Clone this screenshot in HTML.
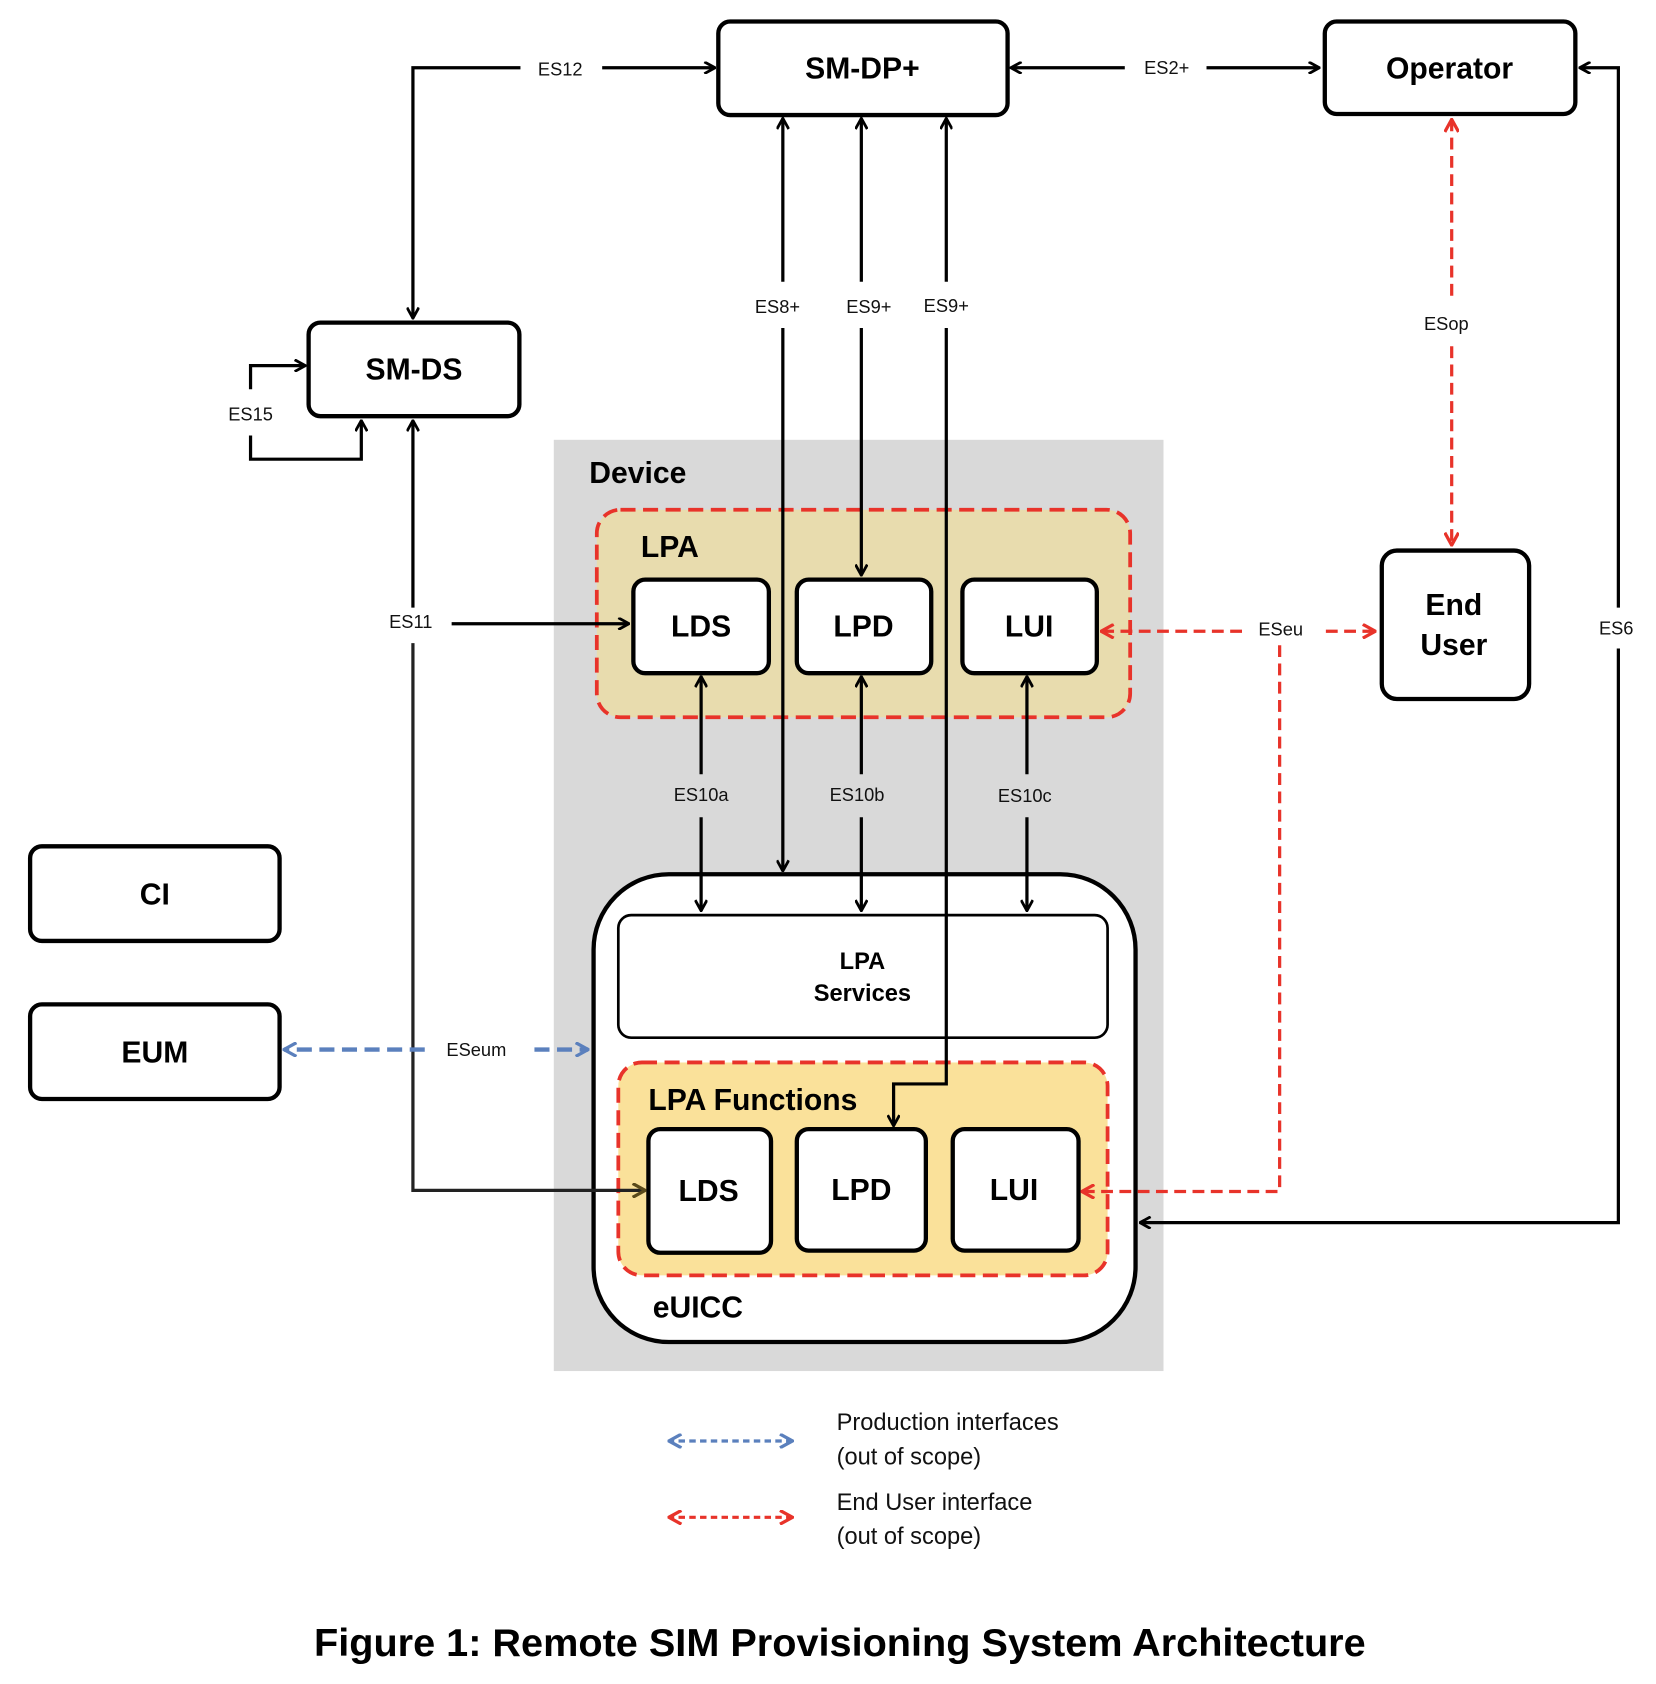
<!DOCTYPE html>
<html><head><meta charset="utf-8"><style>
html,body{margin:0;padding:0;background:#fff}
svg{display:block}
text{font-family:"Liberation Sans",sans-serif}
.b{font-weight:bold;fill:#000}
.l{font-size:17px;fill:#111}
</style></head><body>
<svg width="1656" height="1684" viewBox="0 0 1540 1566" xmlns="http://www.w3.org/2000/svg">
<defs>
<marker id="a" viewBox="0 0 12 12" refX="11" refY="6" markerWidth="12" markerHeight="12" markerUnits="userSpaceOnUse" orient="auto-start-reverse"><path d="M1,0.5 L11,6 L1,11.5" fill="none" stroke="#000" stroke-width="2.6"/></marker>
<marker id="r" viewBox="0 0 12 12" refX="11" refY="6" markerWidth="14" markerHeight="14" markerUnits="userSpaceOnUse" orient="auto-start-reverse"><path d="M1,0.5 L11,6 L1,11.5" fill="none" stroke="#e8332a" stroke-width="2.6"/></marker>
<marker id="u" viewBox="0 0 12 12" refX="11" refY="6" markerWidth="14" markerHeight="14" markerUnits="userSpaceOnUse" orient="auto-start-reverse"><path d="M1,0.5 L11,6 L1,11.5" fill="none" stroke="#5b80bd" stroke-width="2.6"/></marker>
<marker id="br" viewBox="0 0 12 12" refX="11" refY="6" markerWidth="14" markerHeight="14" markerUnits="userSpaceOnUse" orient="auto"><path d="M1,0.5 L11,6 L1,11.5" fill="none" stroke="#5a4a1a" stroke-width="2.6"/></marker>
</defs>

<!-- Device -->
<rect x="515" y="409" width="567" height="866" fill="#d9d9d9"/>
<text x="548" y="449" class="b" font-size="28">Device</text>
<rect x="555" y="474" width="496" height="193" rx="22" fill="#e8dcae" stroke="#e8332a" stroke-width="3.5" stroke-dasharray="14,7"/>
<text x="596" y="518" class="b" font-size="28">LPA</text>

<!-- eUICC -->
<rect x="552" y="813" width="504" height="435" rx="70" fill="#fff" stroke="#000" stroke-width="4"/>
<rect x="575" y="851" width="455" height="114" rx="12" fill="#fff" stroke="#000" stroke-width="2.5"/>
<text x="802" y="901" class="b" font-size="22" text-anchor="middle">LPA</text>
<text x="802" y="931" class="b" font-size="22" text-anchor="middle">Services</text>
<rect x="575" y="988" width="455" height="198" rx="22" fill="#fae19a" stroke="#e8332a" stroke-width="3.5" stroke-dasharray="14,7"/>
<text x="603" y="1032" class="b" font-size="28">LPA Functions</text>
<text x="607" y="1225" class="b" font-size="28">eUICC</text>

<g fill="#fff" stroke="#000" stroke-width="4">
<rect x="668" y="20" width="269" height="87" rx="11"/>
<rect x="1232" y="20" width="233" height="86" rx="11"/>
<rect x="287" y="300" width="196" height="87" rx="11"/>
<rect x="28" y="787" width="232" height="88" rx="11"/>
<rect x="28" y="934" width="232" height="88" rx="11"/>
<rect x="1285" y="512" width="137" height="138" rx="14"/>
<rect x="589" y="539" width="126" height="87" rx="11"/>
<rect x="741" y="539" width="125" height="87" rx="11"/>
<rect x="895" y="539" width="125" height="87" rx="11"/>
<rect x="603" y="1050" width="114" height="115" rx="11"/>
<rect x="741" y="1050" width="120" height="113" rx="11"/>
<rect x="886" y="1050" width="117" height="113" rx="11"/>
</g>
<g class="b" font-size="28" text-anchor="middle">
<text x="802" y="73">SM-DP+</text>
<text x="1348" y="73">Operator</text>
<text x="385" y="353">SM-DS</text>
<text x="144" y="841">CI</text>
<text x="144" y="988">EUM</text>
<text x="1352" y="572">End</text>
<text x="1352" y="609">User</text>
<text x="652" y="592">LDS</text>
<text x="803" y="592">LPD</text>
<text x="957" y="592">LUI</text>
<text x="659" y="1117">LDS</text>
<text x="801" y="1116">LPD</text>
<text x="943" y="1116">LUI</text>
</g>

<!-- black connectors -->
<g fill="none" stroke="#000" stroke-width="3">
<path d="M484,63 H384 V296" marker-end="url(#a)"/>
<path d="M560,63 H665" marker-end="url(#a)"/>
<path d="M1046,63 H940" marker-end="url(#a)"/>
<path d="M1122,63 H1227" marker-end="url(#a)"/>
<path d="M728,262 V110" marker-end="url(#a)"/>
<path d="M728,305 V810" marker-end="url(#a)"/>
<path d="M801,262 V110" marker-end="url(#a)"/>
<path d="M801,305 V535" marker-end="url(#a)"/>
<path d="M880,262 V110" marker-end="url(#a)"/>
<path d="M880,305 V1008 H831 V1047" marker-end="url(#a)"/>
<path d="M233,362 V340 H284" marker-end="url(#a)"/>
<path d="M233,405 V427 H336 V391" marker-end="url(#a)"/>
<path d="M384,565 V391" marker-end="url(#a)"/>
<path d="M420,580 H585" marker-end="url(#a)"/>
<path d="M652,720 V629" marker-end="url(#a)"/>
<path d="M652,760 V847" marker-end="url(#a)"/>
<path d="M801,720 V629" marker-end="url(#a)"/>
<path d="M801,760 V847" marker-end="url(#a)"/>
<path d="M955,720 V629" marker-end="url(#a)"/>
<path d="M955,760 V847" marker-end="url(#a)"/>
<path d="M1505,565 V63 H1469" marker-end="url(#a)"/>
<path d="M1505,603 V1137 H1060" marker-end="url(#a)"/>
</g>
<path d="M384,598 V1107 H600" fill="none" stroke="#222" stroke-width="3" marker-end="url(#br)"/>

<!-- red dashed -->
<g fill="none" stroke="#e8332a" stroke-width="3" stroke-dasharray="11,6">
<path d="M1350,275 V111" marker-end="url(#r)"/>
<path d="M1350,322 V507" marker-end="url(#r)"/>
<path d="M1155,587 H1024" marker-end="url(#r)"/>
<path d="M1233,587 H1279" marker-end="url(#r)"/>
<path d="M1190,600 V1108 H1006" marker-end="url(#r)"/>
<path d="M737,1411 H622" marker-start="url(#r)" marker-end="url(#r)" stroke-dasharray="6,4"/>
</g>
<g fill="none" stroke="#5b80bd" stroke-width="4" stroke-dasharray="14,7">
<path d="M395,976 H264" marker-end="url(#u)"/>
<path d="M497,976 H547" marker-end="url(#u)"/>
<path d="M737,1340 H622" marker-start="url(#u)" marker-end="url(#u)" stroke-width="3" stroke-dasharray="6,4"/>
</g>

<!-- labels -->
<g class="l" text-anchor="middle">
<text x="521" y="70">ES12</text>
<text x="1085" y="69">ES2+</text>
<text x="723" y="291">ES8+</text>
<text x="808" y="291">ES9+</text>
<text x="880" y="290">ES9+</text>
<text x="233" y="391">ES15</text>
<text x="382" y="584">ES11</text>
<text x="652" y="745">ES10a</text>
<text x="797" y="745">ES10b</text>
<text x="953" y="746">ES10c</text>
<text x="1345" y="307">ESop</text>
<text x="1191" y="591">ESeu</text>
<text x="1503" y="590">ES6</text>
<text x="443" y="982">ESeum</text>
</g>
<g font-size="22" fill="#111">
<text x="778" y="1330">Production interfaces</text>
<text x="778" y="1362">(out of scope)</text>
<text x="778" y="1404">End User interface</text>
<text x="778" y="1436">(out of scope)</text>
</g>
<text x="781" y="1540" class="b" font-size="36" text-anchor="middle" textLength="978" lengthAdjust="spacingAndGlyphs">Figure 1: Remote SIM Provisioning System Architecture</text>
</svg>
</body></html>
